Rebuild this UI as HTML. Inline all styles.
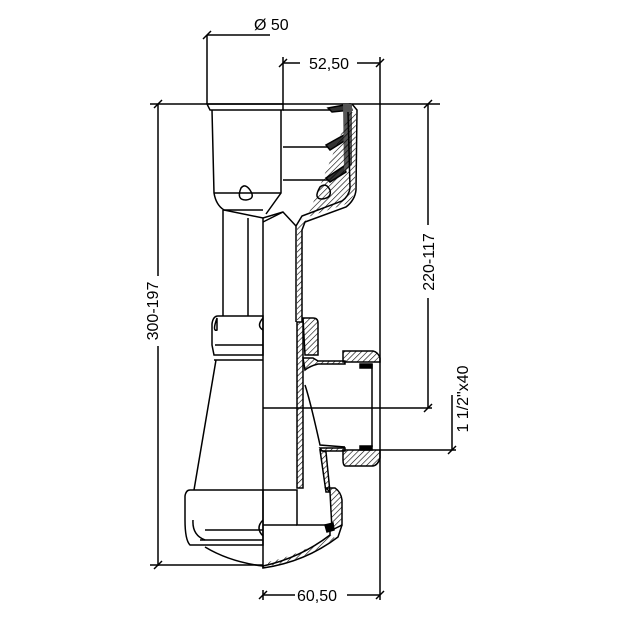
<!DOCTYPE html>
<html><head><meta charset="utf-8"><style>html,body{margin:0;padding:0;background:#fff}svg{display:block}</style></head>
<body>
<svg width="620" height="620" viewBox="0 0 620 620" xmlns="http://www.w3.org/2000/svg" font-family="Liberation Sans, sans-serif" fill="none" stroke="#000" stroke-width="1.5">
<defs>
<pattern id="h" width="4" height="4" patternUnits="userSpaceOnUse" patternTransform="rotate(45)"><line x1="0" y1="0" x2="0" y2="4" stroke="#000" stroke-width="1.2"/></pattern>
</defs>
<line x1="150" y1="104" x2="440" y2="104"/>
<line x1="207" y1="35" x2="270" y2="35"/>
<line x1="207" y1="35" x2="207" y2="104"/>
<line x1="203" y1="39" x2="211" y2="31"/>
<line x1="283" y1="63" x2="300" y2="63"/>
<line x1="357" y1="63" x2="380" y2="63"/>
<line x1="279" y1="67" x2="287" y2="59"/>
<line x1="376" y1="67" x2="384" y2="59"/>
<line x1="283" y1="57" x2="283" y2="104"/>
<line x1="380" y1="57" x2="380" y2="600"/>
<line x1="158" y1="104" x2="158" y2="276"/>
<line x1="158" y1="346" x2="158" y2="566"/>
<line x1="154" y1="108" x2="162" y2="100"/>
<line x1="154" y1="569" x2="162" y2="561"/>
<line x1="150" y1="565" x2="263" y2="565"/>
<line x1="428" y1="104" x2="428" y2="225"/>
<line x1="428" y1="298" x2="428" y2="408"/>
<line x1="424" y1="108" x2="432" y2="100"/>
<line x1="424" y1="412" x2="432" y2="404"/>
<line x1="263" y1="408" x2="432" y2="408"/>
<line x1="380" y1="450" x2="456" y2="450"/>
<line x1="452" y1="395" x2="452" y2="450"/>
<line x1="448" y1="454" x2="456" y2="446"/>
<line x1="263" y1="590" x2="263" y2="600"/>
<line x1="263" y1="595" x2="295" y2="595"/>
<line x1="347" y1="595" x2="380" y2="595"/>
<line x1="259" y1="599" x2="267" y2="591"/>
<line x1="376" y1="599" x2="384" y2="591"/>
<g fill="#000" stroke="none" font-size="16">
<text x="254" y="30">Ø 50</text>
<text x="309" y="69">52,50</text>
<text x="297" y="601">60,50</text>
<text transform="translate(158,311) rotate(-90)" text-anchor="middle" x="0" y="0" dy="0">300-197</text>
<text transform="translate(434,262) rotate(-90)" text-anchor="middle" x="0" y="0">220-117</text>
<text transform="translate(468,399) rotate(-90)" text-anchor="middle" x="0" y="0">1 1/2"x40</text>
</g>
<line x1="263" y1="218" x2="263" y2="568"/>
<path d="M207 104 L283 104 L283 110 L210 110 Z"/>
<path d="M212 110 L214 193 Q216 205 224 210 L263 210 M281 110 L281 193 L266 214"/>
<line x1="214" y1="193" x2="281" y2="193"/>
<path d="M241 188 Q245 183 250 190 Q256 199 246 200 Q236 200 241 188 Z"/>
<path d="M223 210 L223 316 M248 218 L248 316"/>
<path d="M224 210 L263 218 L283 212"/>
<path d="M218 316 L263 316 L263 355 L214 355 L212 345 L212 324 Q213 316 218 316 Z"/>
<line x1="215" y1="345" x2="263" y2="345"/>
<path d="M217 318 Q212 332 217 330 Z M263 318 Q256 326 263 330"/>
<path d="M214 360 L263 360 M216 360 L194 490"/>
<path d="M190 490 L263 490 L263 545 L190 545 Q185 540 185 520 L185 496 Q186 490 190 490 Z"/>
<path d="M205 530 L263 530 M200 540 L263 540"/>
<path d="M193 520 Q192 535 205 540 M263 520 Q255 528 263 536"/>
<path d="M205 547 Q230 562 263 566"/>
<path d="M283 110 L330 110 M283 147 L330 147 M283 180 L330 180"/>
<path d="M328 108 L350 104 L352 110 L332 112 Z" fill="#333"/>
<path d="M326 145 L344 135 L346 140 L330 150 Z" fill="#333"/>
<path d="M326 178 L344 166 L346 172 L330 182 Z" fill="#333"/>
<path d="M343 104 L352 104 L352 165 L344 172 Z" fill="#555" stroke="none"/>
<path d="M352 104 L357 110 L356 190 Q355 200 346 207 L305 222 L302 230 L302 322"/>
<path d="M348 112 L350 188 Q349 196 342 201 L302 216 L296 226 L296 322"/>
<path d="M350 112 L356 112 L355 190 Q354 198 346 204 L302 219 L297 228 L297 320 L302 320 L302 230 Z" fill="url(#h)" stroke="none"/>
<path d="M320 187 Q326 182 330 190 Q332 198 322 199 Q313 199 320 187 Z"/>
<path d="M263 222 L283 212 L296 226"/>
<path d="M303 318 L313 318 Q318 318 318 323 L318 355 L305 355 Z" fill="url(#h)"/>
<path d="M297 322 L297 488 L303 488 L303 322 Z" fill="url(#h)"/>
<path d="M303 358 L313 358 L318 361 L345 361 L345 364 L318 364 Q310 366 305 370 Z" fill="url(#h)"/>
<path d="M343 351 L373 351 Q378 352 380 358 L380 362 L343 362 Z" fill="url(#h)"/>
<path d="M360 364 L372 364 L372 368 L360 368 Z" fill="#000"/>
<line x1="372" y1="364" x2="372" y2="447"/>
<path d="M305 385 Q310 400 320 445 L345 447"/>
<path d="M320 448 L345 448 L345 451 L322 451 Z" fill="url(#h)"/>
<path d="M343 450 L380 450 L380 458 Q378 465 373 466 L345 466 Q343 465 343 460 Z" fill="url(#h)"/>
<path d="M360 446 L372 446 L372 450 L360 450 Z" fill="#000"/>
<path d="M320 450 L326 492 L330 492 L326 452 Z" fill="url(#h)"/>
<path d="M326 488 L335 488 Q341 492 342 500 L342 525 L332 530 L330 492 Z" fill="url(#h)"/>
<path d="M263 490 L297 490 L297 525 L330 525"/>
<path d="M263 525 L297 525"/>
<path d="M330 525 L330 535 Q300 558 263 566 L263 568 Q305 562 338 537 L342 525"/>
<path d="M268 562 Q300 555 331 535 L335 538 Q305 560 268 566 Z" fill="url(#h)" stroke="none"/>
<path d="M325 525 L333 523 L334 530 L327 532 Z" fill="#000"/>
</svg>
</body></html>
